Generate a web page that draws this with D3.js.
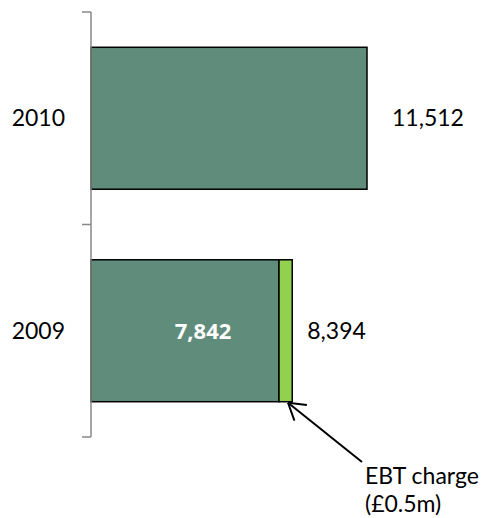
<!DOCTYPE html>
<html>
<head>
<meta charset="utf-8">
<script src="https://cdn.jsdelivr.net/npm/d3@7"></script>
<style>
  html, body { margin: 0; padding: 0; background: #fff; }
  svg { display: block; font-family: "Lato", "Open Sans", sans-serif; }
</style>
</head>
<body>
<svg id="chart" width="491" height="518"></svg>
<script>
// ---- data ----
const categories = ["2010", "2009"];
const baseValues = [11512, 7842];
const ebtValues = [0, 552];
const totalLabels = ["11,512", "8,394"];
const innerLabels = ["", "7,842"];
const annotation = ["EBT charge", "(£0.5m)"];

const svg = d3.select("#chart");

const x = d3.scaleLinear().domain([0, 11512]).range([91, 367]);
const y = d3.scaleBand().domain(categories).range([12, 437])
  .paddingInner(0.332).paddingOuter(0.166);

const data = categories.map((c, i) => ({
  cat: c, base: baseValues[i], ebt: ebtValues[i],
  total: baseValues[i] + ebtValues[i],
  totalLabel: totalLabels[i], innerLabel: innerLabels[i]
}));

const fontSize = 23;
const ff = "Lato, 'Open Sans', sans-serif";

// base bars
svg.selectAll("rect.base").data(data).join("rect")
  .attr("class", "base")
  .attr("x", x(0))
  .attr("y", d => y(d.cat))
  .attr("width", d => x(d.base) - x(0))
  .attr("height", y.bandwidth())
  .attr("fill", "#5f8c7b")
  .attr("stroke", "#000")
  .attr("stroke-width", 1.5);

// EBT segments
svg.selectAll("rect.ebt").data(data.filter(d => d.ebt > 0)).join("rect")
  .attr("class", "ebt")
  .attr("x", d => x(d.base))
  .attr("y", d => y(d.cat))
  .attr("width", d => x(d.total) - x(d.base))
  .attr("height", y.bandwidth())
  .attr("fill", "#92d050")
  .attr("stroke", "#000")
  .attr("stroke-width", 1.5);

// axis (category labels)
const axis = d3.axisLeft(y).tickSize(0).tickPadding(26);
const gAxis = svg.append("g").attr("transform", `translate(${x(0)},0)`).call(axis);
gAxis.select(".domain").remove();
gAxis.selectAll("text")
  .attr("font-family", ff)
  .attr("font-size", fontSize)
  .attr("fill", "#000")
  .attr("dy", "0.35em");

// axis line and boundary ticks
const [r0, r1] = y.range();
svg.append("line")
  .attr("x1", x(0)).attr("x2", x(0))
  .attr("y1", r0).attr("y2", r1)
  .attr("stroke", "#888").attr("stroke-width", 1.5);
const boundaries = [r0].concat(categories.slice(1).map(c => y(c) - y.step() * y.paddingInner() / 2)).concat([r1]);
svg.selectAll("line.tick-b").data(boundaries).join("line")
  .attr("class", "tick-b")
  .attr("x1", x(0) - 9).attr("x2", x(0))
  .attr("y1", d => d).attr("y2", d => d)
  .attr("stroke", "#888").attr("stroke-width", 1.5);

// total labels
svg.selectAll("text.total").data(data).join("text")
  .attr("class", "total")
  .attr("x", d => x(d.total) + (d.ebt > 0 ? 15 : 25))
  .attr("y", d => y(d.cat) + y.bandwidth() / 2)
  .attr("dy", "0.35em")
  .attr("font-family", ff)
  .attr("font-size", fontSize)
  .attr("fill", "#000")
  .text(d => d.totalLabel);

// inner labels
svg.selectAll("text.inner").data(data.filter(d => d.innerLabel)).join("text")
  .attr("class", "inner")
  .attr("x", d => x(d.base) - 76)
  .attr("y", d => y(d.cat) + y.bandwidth() / 2)
  .attr("dy", "0.36em")
  .attr("text-anchor", "middle")
  .attr("font-family", "'Open Sans', sans-serif")
  .attr("font-size", 22)
  .attr("font-weight", "bold")
  .attr("fill", "#fff")
  .text(d => d.innerLabel);

// annotation arrow
const ebtRow = data.find(d => d.ebt > 0);
const tipX = x(ebtRow.base) + 9, tipY = y(ebtRow.cat) + y.bandwidth() + 1;
const tailX = 362, tailY = 462;
svg.append("line")
  .attr("x1", tailX).attr("y1", tailY)
  .attr("x2", tipX).attr("y2", tipY)
  .attr("stroke", "#000").attr("stroke-width", 2);
const ang = Math.atan2(tailY - tipY, tailX - tipX);
const headLen = 19, spread = 0.55;
[ang - spread, ang + spread].forEach(a => {
  svg.append("line")
    .attr("x1", tipX).attr("y1", tipY)
    .attr("x2", tipX + headLen * Math.cos(a))
    .attr("y2", tipY + headLen * Math.sin(a))
    .attr("stroke", "#000").attr("stroke-width", 2);
});

annotation.forEach((t, i) => {
  svg.append("text")
    .attr("x", 365).attr("y", 484 + i * 27.6)
    .attr("font-family", ff)
    .attr("font-size", fontSize).attr("fill", "#000")
    .text(t);
});
</script>
</body>
</html>
